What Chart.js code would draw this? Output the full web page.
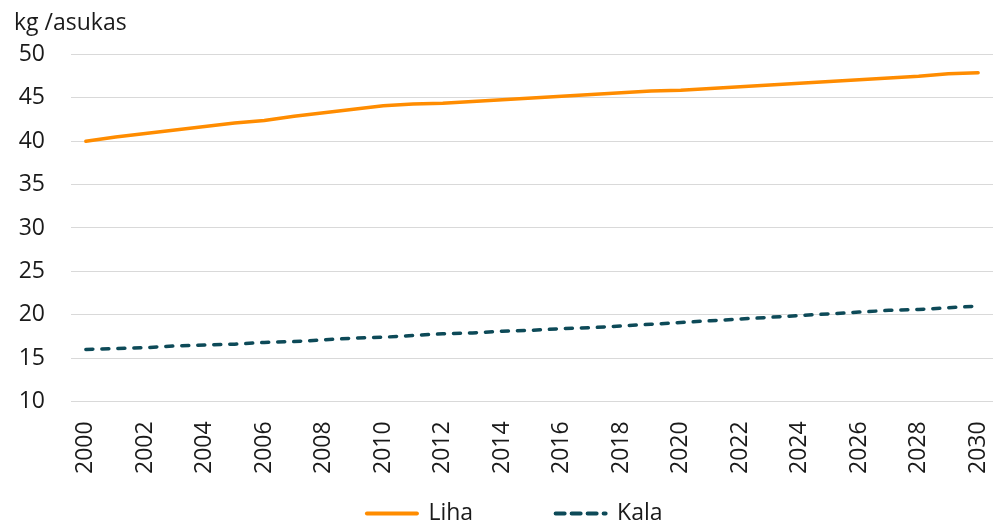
<!DOCTYPE html>
<html>
<head>
<meta charset="utf-8">
<script src="https://cdn.jsdelivr.net/npm/chart.js@4"></script>
<style>
  html, body { margin: 0; padding: 0; background: #fff; }
</style>
</head>
<body>
<canvas id="kulutus" width="995" height="523"></canvas>
<script>
const years = [];
for (let y = 2000; y <= 2030; y++) years.push(String(y));

const liha = [40.0, 40.5, 40.9, 41.3, 41.7, 42.1, 42.4, 42.9, 43.3, 43.7, 44.1,
  44.3, 44.4, 44.6, 44.8, 45.0, 45.2, 45.4, 45.6, 45.8, 45.9,
  46.1, 46.3, 46.5, 46.7, 46.9, 47.1, 47.3, 47.5, 47.8, 47.9];
const kala = [16.0, 16.1, 16.2, 16.4, 16.5, 16.6, 16.8, 16.9, 17.1, 17.3, 17.4,
  17.6, 17.8, 17.9, 18.1, 18.2, 18.4, 18.5, 18.7, 18.9, 19.1,
  19.3, 19.5, 19.7, 19.9, 20.1, 20.3, 20.5, 20.6, 20.8, 21.0];

const font = "'Open Sans', 'Noto Sans', sans-serif";
const textColor = '#1a1a1a';

window.onload = () => {
  new Chart(document.getElementById('kulutus'), {
    type: 'line',
    data: {
      labels: years,
      datasets: [{
        label: 'Liha\u2003\u2003\u2003\u2002',
        data: liha,
        borderColor: '#ff8c00',
        backgroundColor: '#ff8c00',
        borderWidth: 3.5,
        pointRadius: 0,
        borderCapStyle: 'round',
        tension: 0
      }, {
        label: 'Kala\u2003\u2002',
        data: kala,
        borderColor: '#0d4a58',
        backgroundColor: '#0d4a58',
        borderWidth: 3.5,
        borderDash: [7, 9],
        borderCapStyle: 'round',
        pointRadius: 0,
        tension: 0
      }]
    },
    options: {
      responsive: false,
      animation: false,
      layout: { padding: { left: 14, right: 2, top: 0, bottom: -12 } },
      plugins: {
        title: {
          display: true,
          text: 'kg /asukas',
          align: 'start',
          color: textColor,
          font: { family: font, size: 23, weight: 'normal' },
          padding: { top: 10, bottom: 17 }
        },
        legend: {
          position: 'bottom',
          fullSize: false,
          labels: {
            usePointStyle: true,
            pointStyle: 'line',
            pointStyleWidth: 50,
            padding: 2,
            color: textColor,
            font: { family: font, size: 23 },
            generateLabels: (chart) => {
              const items = Chart.defaults.plugins.legend.labels.generateLabels(chart);
              items.forEach((it) => {
                const ds = chart.data.datasets[it.datasetIndex];
                it.lineDash = ds.borderDash ? [9, 7] : [];
                it.lineCap = 'round';
                it.lineWidth = 4;
                it.strokeStyle = ds.borderColor;
              });
              return items;
            }
          }
        },
        tooltip: { enabled: false }
      },
      scales: {
        x: {
          offset: true,
          grid: { display: false },
          border: { display: false },
          ticks: {
            autoSkip: false,
            maxRotation: 90,
            minRotation: 90,
            padding: 12,
            color: textColor,
            font: { family: font, size: 23 },
            callback: (v, i) => (i % 2 === 0 ? years[i] : '')
          },
          afterFit: (scale) => {
            scale.paddingLeft = 0;
            scale.paddingRight = 0;
            scale.height += 14;
          }
        },
        y: {
          min: 10,
          max: 50,
          ticks: {
            stepSize: 5,
            padding: 26,
            color: textColor,
            font: { family: font, size: 23 }
          },
          grid: { color: '#d9d9d9', lineWidth: 1, drawTicks: false },
          border: { display: false },
          afterFit: (scale) => { scale.width = 57; }
        }
      }
    }
  });
};
</script>
</body>
</html>
